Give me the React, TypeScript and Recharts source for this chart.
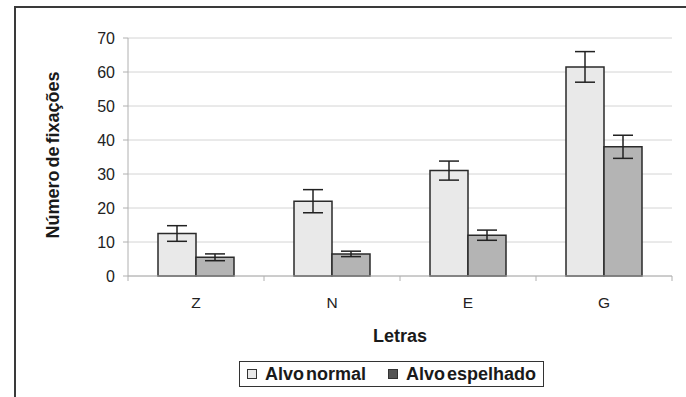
import React from 'react';
import { BarChart, Bar, XAxis, YAxis, CartesianGrid, ErrorBar } from 'recharts';

const letters = ['Z', 'N', 'E', 'G'];
const normalValues = [12.5, 22, 31, 61.5];
const normalErrors = [2.3, 3.4, 2.8, 4.5];
const mirroredValues = [5.5, 6.5, 12, 38];
const mirroredErrors = [1, 0.8, 1.5, 3.4];
const yTicks = [0, 10, 20, 30, 40, 50, 60, 70];

const data = letters.map((letter, i) => ({
  letter,
  normal: normalValues[i],
  normalErr: normalErrors[i],
  mirrored: mirroredValues[i],
  mirroredErr: mirroredErrors[i],
}));

const FONT = 'Liberation Sans, Arial, sans-serif';
const AXIS_GRAY = '#b0b0b0';

// category label plus the small tick marks sitting between categories
const LetterTick = (props: any) => {
  const { x, y, payload, index, visibleTicksCount, width } = props;
  const band = payload?.offset ? payload.offset * 2 : width / visibleTicksCount;
  const left = x - band / 2;
  const right = x + band / 2;
  return (
    <g>
      <line x1={left} y1={y} x2={left} y2={y + 5} stroke={AXIS_GRAY} />
      {index === visibleTicksCount - 1 && (
        <line x1={right} y1={y} x2={right} y2={y + 5} stroke={AXIS_GRAY} />
      )}
      <text x={x} y={y + 32} textAnchor="middle" fontSize={15.5} fill="#222" fontFamily={FONT}>
        {payload.value}
      </text>
    </g>
  );
};

const YLabel = (props: any) => {
  const { viewBox } = props;
  const cx = viewBox.x + 53;
  const cy = viewBox.y + viewBox.height / 2 - 2;
  return (
    <text
      x={cx}
      y={cy}
      transform={`rotate(-90, ${cx}, ${cy})`}
      textAnchor="middle"
      dominantBaseline="central"
      fontSize={18}
      fontWeight="bold"
      fill="#1a1a1a"
      fontFamily={FONT}
      style={{ wordSpacing: -2 }}
    >
      Número de fixações
    </text>
  );
};

const XLabel = (props: any) => {
  const { viewBox } = props;
  return (
    <text
      x={viewBox.x + viewBox.width / 2}
      y={viewBox.y + 66}
      textAnchor="middle"
      fontSize={18}
      fontWeight="bold"
      fill="#1a1a1a"
      fontFamily={FONT}
    >
      Letras
    </text>
  );
};

const legendItems = [
  { label: 'Alvo normal', color: '#e9e9e9' },
  { label: 'Alvo espelhado', color: '#555' },
];

export default function App() {
  return (
    <div style={{ position: 'absolute', left: 0, top: 0, width: 686, height: 397, overflow: 'hidden', background: '#fff' }}>
      <div
        style={{
          position: 'absolute',
          left: 14,
          top: 6,
          width: 700,
          height: 420,
          borderTop: '2px solid #3a3a3a',
          borderLeft: '2px solid #3a3a3a',
        }}
      />
      <BarChart
        width={686}
        height={397}
        data={data}
        margin={{ top: 38, right: 14, left: 0, bottom: 41 }}
        barGap={0}
        barSize={38}
        style={{ position: 'absolute', left: 0, top: 0 }}
      >
        <CartesianGrid vertical={false} stroke="#d4d4d4" />
        <XAxis
          dataKey="letter"
          height={80}
          tickSize={0}
          tickMargin={0}
          axisLine={{ stroke: AXIS_GRAY }}
          tick={<LetterTick />}
          label={<XLabel />}
        />
        <YAxis
          width={128}
          domain={[0, 70]}
          ticks={yTicks}
          tickSize={5}
          tickMargin={8}
          axisLine={{ stroke: AXIS_GRAY }}
          tickLine={{ stroke: AXIS_GRAY }}
          tick={{ fontSize: 16, fill: '#222', fontFamily: FONT }}
          label={<YLabel />}
        />
        <Bar dataKey="normal" fill="#e9e9e9" stroke="#2a2a2a" strokeWidth={1.5} isAnimationActive={false}>
          <ErrorBar dataKey="normalErr" width={10} stroke="#222" strokeWidth={1.5} />
        </Bar>
        <Bar dataKey="mirrored" fill="#b4b4b4" stroke="#2a2a2a" strokeWidth={1.5} isAnimationActive={false}>
          <ErrorBar dataKey="mirroredErr" width={10} stroke="#222" strokeWidth={1.5} />
        </Bar>
      </BarChart>
      <div
        style={{
          position: 'absolute',
          left: 239,
          top: 361,
          width: 303,
          height: 24,
          border: '1.5px solid #333',
          display: 'flex',
          alignItems: 'center',
          justifyContent: 'center',
          gap: 22,
          fontFamily: FONT,
          fontWeight: 'bold',
          fontSize: 18,
          color: '#1a1a1a',
          wordSpacing: -3,
        }}
      >
        {legendItems.map((item) => (
          <span key={item.label} style={{ display: 'flex', alignItems: 'center' }}>
            <span
              style={{
                display: 'inline-block',
                width: 8,
                height: 8,
                background: item.color,
                border: '1px solid #333',
                marginRight: 8,
              }}
            />
            {item.label}
          </span>
        ))}
      </div>
    </div>
  );
}
